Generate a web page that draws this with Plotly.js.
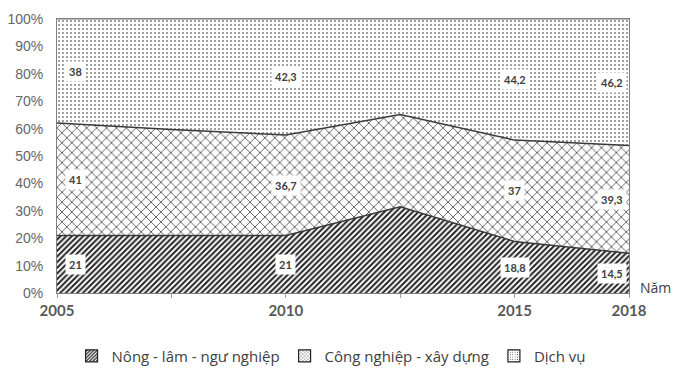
<!DOCTYPE html>
<html>
<head>
<meta charset="utf-8">
<script src="https://cdn.plot.ly/plotly-3.0.1.min.js"></script>
<style>html,body{margin:0;padding:0;background:#fff;}#chart{width:674px;height:384px;}</style>
</head>
<body>
<div id="chart"></div>
<script>
// Category labels along the x axis (blank slots are unlabelled ticks)
const tickLabels = ["2005", "", "2010", "", "2015", "2018"];
// Series values (%)
const nongLamNgu = [21, 21, 21, 31.5, 18.8, 14.5];
const congNghiep = [41, 38.7, 36.7, 33.6, 37, 39.3];
const dichVu = [38, 40.3, 42.3, 34.9, 44.2, 46.2];
// Slots that carry data labels
const labelledSlots = [0, 2, 4, 5];
const seriesNames = ["Nông - lâm - ngư nghiệp", "Công nghiệp - xây dựng", "Dịch vụ"];
const yTickValues = [0, 10, 20, 30, 40, 50, 60, 70, 80, 90, 100];

const xPos = tickLabels.map((_, i) => i);
const lineStyle = {color: "#3a3a3a", width: 1.5, shape: "linear"};

const patterns = [
  {shape: "/", fgcolor: "#222222", bgcolor: "#ffffff", size: 4, solidity: 0.5},
  {shape: "x", fgcolor: "#333333", bgcolor: "#ffffff", size: 7, solidity: 0.2},
  {shape: ".", fgcolor: "#1a1a1a", bgcolor: "#ffffff", size: 4, solidity: 0.12}
];
const seriesValues = [nongLamNgu, congNghiep, dichVu];

const traces = [];
seriesValues.forEach((vals, k) => {
  traces.push({
    x: xPos, y: vals, name: seriesNames[k], type: "scatter", mode: "lines",
    stackgroup: "one", line: k === 2 ? {color: "#7a7a7a", width: 1} : lineStyle,
    fillcolor: "#ffffff", fillpattern: patterns[k], showlegend: false, hoverinfo: "skip"
  });
});
// legend-only entries drawn as patterned squares
seriesValues.forEach((vals, k) => {
  traces.push({
    x: [null], y: [null], name: seriesNames[k], type: "bar",
    marker: {color: "#ffffff", line: {color: "#222222", width: 1.2},
             pattern: Object.assign({}, patterns[k], {size: 3})},
    showlegend: true, hoverinfo: "skip"
  });
});

const fmt = v => String(v).replace(".", ",");
const annotations = [];
labelledSlots.forEach(i => {
  const shift = i === 0 ? 18 : (i === tickLabels.length - 1 ? -17 : 0);
  let base = 0;
  seriesValues.forEach(vals => {
    annotations.push({
      x: i, y: base + vals[i] / 2, xref: "x", yref: "y", text: "<b>" + fmt(vals[i]) + "</b>",
      showarrow: false, xshift: shift, bgcolor: "#ffffff", borderpad: 3,
      font: {family: "Lato, 'Open Sans', sans-serif", size: 11, color: "#404040"}
    });
    base += vals[i];
  });
});
annotations.push({
  x: 1, y: 0.02, xref: "paper", yref: "paper", xanchor: "left", yanchor: "middle",
  xshift: 9, text: "Năm", showarrow: false,
  font: {family: "'Open Sans', sans-serif", size: 14, color: "#404040"}
});

const layout = {
  width: 674, height: 384,
  margin: {l: 57, r: 45, t: 19, b: 67},
  paper_bgcolor: "#ffffff", plot_bgcolor: "#ffffff",
  showlegend: true,
  legend: {
    orientation: "h", x: 0.48, xanchor: "center", y: -0.17, yanchor: "top",
    font: {family: "'Open Sans', sans-serif", size: 15, color: "#404040"},
    traceorder: "normal", itemwidth: 30
  },
  xaxis: {
    range: [0, tickLabels.length - 1], tickvals: xPos, ticktext: tickLabels,
    showgrid: false, zeroline: false, showline: true, linecolor: "#7f7f7f", mirror: true,
    ticks: "outside", ticklen: 4, tickcolor: "#a0a0a0",
    tickfont: {family: "Lato, 'Open Sans', sans-serif", size: 15, color: "#595959", weight: "bold"}
  },
  yaxis: {
    range: [0, 100], tickvals: yTickValues, ticktext: yTickValues.map(v => v + "%"),
    showgrid: false, zeroline: false, showline: true, linecolor: "#7f7f7f", mirror: true,
    ticks: "", ticklabelstandoff: 10,
    tickfont: {family: "'Liberation Sans', Arial, sans-serif", size: 14, color: "#666666"}
  },
  annotations: annotations
};

Plotly.newPlot("chart", traces, layout, {displayModeBar: false, staticPlot: true});
</script>
</body>
</html>
